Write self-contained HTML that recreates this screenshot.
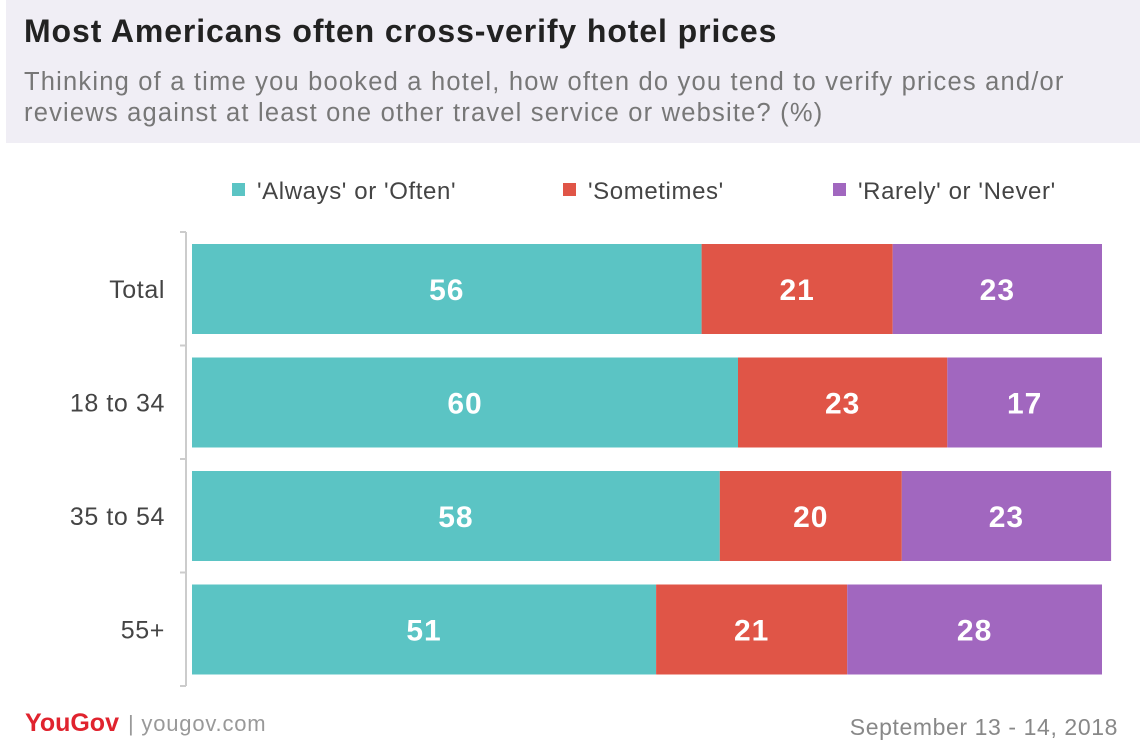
<!DOCTYPE html>
<html><head><meta charset="utf-8"><style>
body{margin:0;width:1146px;height:752px;background:#fff;font-family:"Liberation Sans",sans-serif;position:relative;overflow:hidden}
.hdr{position:absolute;left:6px;top:0;width:1134px;height:143px;background:#f0eef5}
.t{position:absolute;left:24px;top:13px;font-size:32px;font-weight:bold;color:#222;letter-spacing:0.9px}
.s{position:absolute;left:24px;top:67px;font-size:25.5px;color:#777;line-height:31px;letter-spacing:1.2px}
svg{position:absolute;left:0;top:0}
</style></head><body>
<div class="hdr"></div>
<div class="t">Most Americans often cross-verify hotel prices</div>
<div class="s">Thinking of a time you booked a hotel, how often do you tend to verify prices and/or<br>reviews against at least one other travel service or website? (%)</div>
<svg id="c" width="1146" height="752"></svg>
<script>
const categories=["Total","18 to 34","35 to 54","55+"];
const seriesNames=["'Always' or 'Often'","'Sometimes'","'Rarely' or 'Never'"];
const always=[56,60,58,51];
const sometimes=[21,23,20,21];
const rarely=[23,17,23,28];
const colors=["#5bc4c4","#e05547","#a167bf"];
const NS="http://www.w3.org/2000/svg";
const svg=document.getElementById('c');
function mk(t,a,txt){const e=document.createElementNS(NS,t);for(const k in a)e.setAttribute(k,a[k]);if(txt!=null)e.textContent=txt;svg.appendChild(e);return e;}
const x0=192,unit=9.1;
const x=v=>x0+v*unit;
const y=i=>244+i*113.5;
const bh=90;
let ax=mk('line',{x1:186,y1:232,x2:186,y2:686,stroke:'#ccc','stroke-width':2});


for(let i=0;i<=4;i++){const ty=i==0?232:(i==4?686:y(i)-12);const tk=mk('line',{x1:180,y1:ty,x2:186,y2:ty,stroke:'#ccc','stroke-width':2});

}
const series=[always,sometimes,rarely];
categories.forEach((c,i)=>{
 const l=mk('text',{x:165,y:y(i)+bh/2+9,'text-anchor':'end','font-size':25,fill:'#444','letter-spacing':0.6},c);
 
 
 let acc=0;
 series.forEach((s,k)=>{
  const r=mk('rect',{x:x(acc),y:y(i),width:s[i]*unit,height:bh,fill:colors[k]});
  
  
  const v=mk('text',{x:x(acc+s[i]/2),y:y(i)+bh/2+11,'text-anchor':'middle','font-size':30,'font-weight':'bold',fill:'#fff','letter-spacing':1},s[i]);
  
  
  acc+=s[i];
 });
});
const lx=[232,563,833];
seriesNames.forEach((n,k)=>{
 const r=mk('rect',{x:lx[k],y:183,width:13,height:13,fill:colors[k]});
 
 
 const t=mk('text',{x:lx[k]+25,y:199,'font-size':24,fill:'#444','letter-spacing':0.6},n);
 
 
});
const lg=mk('text',{x:25,y:731,'font-size':25,'font-weight':'bold',fill:'#e0232e'},'YouGov');


const u=mk('text',{x:128,y:731,'font-size':22,fill:'#999','letter-spacing':0.8},'| yougov.com');


const d=mk('text',{x:1118,y:735,'text-anchor':'end','font-size':23,fill:'#888','letter-spacing':0.6},'September 13 - 14, 2018');


</script>
</body></html>
